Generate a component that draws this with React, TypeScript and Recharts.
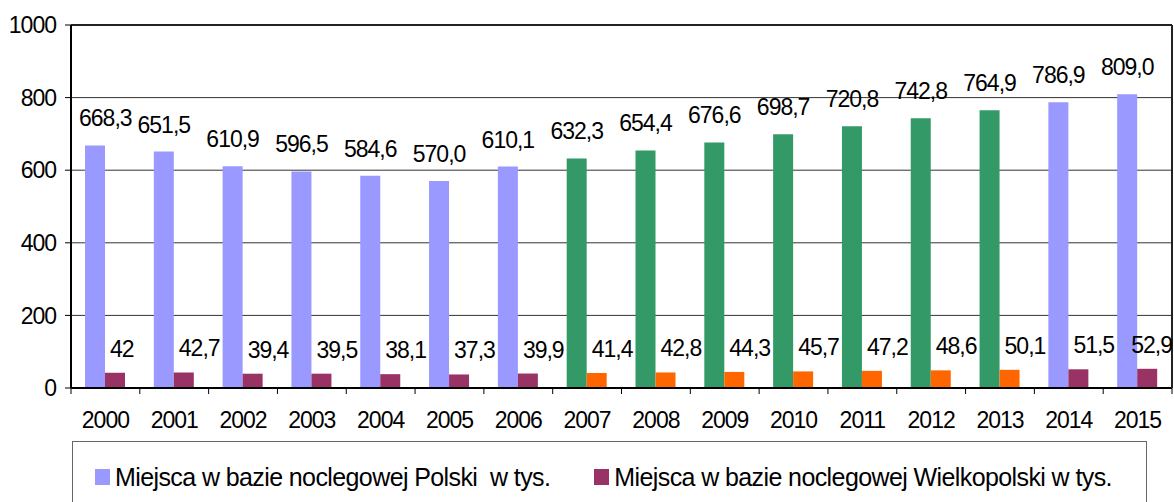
import React from 'react';
import { BarChart, Bar, XAxis, YAxis, CartesianGrid, ReferenceLine, LabelList, Cell } from 'recharts';

// Miejsca noclegowe (tys.) - Polska i Wielkopolska
const years = ['2000', '2001', '2002', '2003', '2004', '2005', '2006', '2007', '2008', '2009', '2010', '2011', '2012', '2013', '2014', '2015'];
const polska = [668.3, 651.5, 610.9, 596.5, 584.6, 570.0, 610.1, 632.3, 654.4, 676.6, 698.7, 720.8, 742.8, 764.9, 786.9, 809.0];
const wielkopolska = [42, 42.7, 39.4, 39.5, 38.1, 37.3, 39.9, 41.4, 42.8, 44.3, 45.7, 47.2, 48.6, 50.1, 51.5, 52.9];
// lata wyróżnione innym kolorem
const highlighted = ['2007', '2008', '2009', '2010', '2011', '2012', '2013'];
const yTicks = [0, 200, 400, 600, 800, 1000];
const seriesNames = ['Miejsca w bazie noclegowej Polski  w tys.', 'Miejsca w bazie noclegowej Wielkopolski w tys.'];

const COLORS = {
  polska: '#9999FF',
  wielkopolska: '#993366',
  polskaHi: '#339966',
  wielkopolskaHi: '#FF6600',
};

const FONT = '"Liberation Sans", Arial, sans-serif';
const FS = 23;
const LS = -1;
const W = 1174;
const H = 502;
const PLOT_LEFT = 71;
const PLOT_RIGHT = 1172;

const data = years.map((year, i) => ({ year, polska: polska[i], wielkopolska: wielkopolska[i] }));

const fmt = (v: number, keepInt = false) =>
  keepInt && Number.isInteger(v) ? String(v) : v.toFixed(1).replace('.', ',');

// rough width of a label at 23px Arial with tight spacing
const textWidth = (s: string) => s.split('').reduce((w, c) => w + (c === ',' ? 5.4 : 11.8), 0);

const PolskaLabel = (props: any) => {
  const { x, y, width, value } = props;
  const s = fmt(Number(value));
  const w = textWidth(s);
  let cx = Number(x) + Number(width) / 2;
  cx = Math.max(cx, PLOT_LEFT + 8 + w / 2);
  return (
    <text x={cx} y={Number(y) - 19} textAnchor="middle" fontSize={FS} letterSpacing={LS} fontFamily={FONT} fill="#000">
      {s}
    </text>
  );
};

const WielkoLabel = (props: any) => {
  const { x, y, value } = props;
  const s = fmt(Number(value), true);
  const w = textWidth(s);
  let left = Number(x) + 5;
  if (left + w > PLOT_RIGHT) left = PLOT_RIGHT - w;
  return (
    <text x={left} y={Number(y) - 16} textAnchor="start" fontSize={FS} letterSpacing={LS} fontFamily={FONT} fill="#000">
      {s}
    </text>
  );
};

const YearTick = (props: any) => {
  const { x, y, payload, index } = props;
  const half = payload && payload.offset ? payload.offset : (PLOT_RIGHT - PLOT_LEFT) / years.length / 2;
  const axisY = y - 24;
  return (
    <g>
      <line x1={x - half} x2={x - half} y1={axisY} y2={axisY + 6} stroke="#000" strokeWidth={1} />
      {index === years.length - 1 && (
        <line x1={x + half} x2={x + half} y1={axisY} y2={axisY + 6} stroke="#000" strokeWidth={1} />
      )}
      <text x={x} y={y} dy="0.71em" textAnchor="middle" fontSize={FS} letterSpacing={LS} fontFamily={FONT} fill="#000">
        {payload.value}
      </text>
    </g>
  );
};

export default function App() {
  return (
    <div style={{ position: 'absolute', left: 0, top: 0, width: W, height: H, background: '#fff', fontFamily: FONT }}>
      <BarChart
        width={W}
        height={H}
        data={data}
        margin={{ top: 25, right: 0, left: 0, bottom: 74 }}
        barGap={0}
        barSize={20}
      >
        <CartesianGrid horizontal vertical={false} stroke="#333" strokeWidth={1} />
        <XAxis
          dataKey="year"
          height={40}
          tickLine={false}
          tickSize={6}
          tickMargin={18}
          axisLine={{ stroke: '#000', strokeWidth: 2 }}
          tick={<YearTick />}
          interval={0}
        />
        <YAxis
          domain={[0, 1000]}
          ticks={yTicks}
          width={PLOT_LEFT}
          tickSize={6}
          tickMargin={9}
          axisLine={{ stroke: '#000', strokeWidth: 2 }}
          tickLine={{ stroke: '#000', strokeWidth: 1 }}
          tick={{ fontSize: FS, fill: '#000', fontFamily: FONT, letterSpacing: LS }}
          interval={0}
        />
        <YAxis
          yAxisId="right"
          orientation="right"
          domain={[0, 1000]}
          width={2}
          tick={false}
          tickLine={false}
          axisLine={{ stroke: '#222', strokeWidth: 2 }}
        />
        <ReferenceLine y={1000} stroke="#222" strokeWidth={2} />
        <Bar dataKey="polska" isAnimationActive={false}>
          {data.map((d) => (
            <Cell key={d.year} fill={highlighted.includes(d.year) ? COLORS.polskaHi : COLORS.polska} />
          ))}
          <LabelList dataKey="polska" content={<PolskaLabel />} />
        </Bar>
        <Bar dataKey="wielkopolska" isAnimationActive={false}>
          {data.map((d) => (
            <Cell key={d.year} fill={highlighted.includes(d.year) ? COLORS.wielkopolskaHi : COLORS.wielkopolska} />
          ))}
          <LabelList dataKey="wielkopolska" content={<WielkoLabel />} />
        </Bar>
      </BarChart>
      <div
        style={{
          position: 'absolute',
          left: 72,
          top: 441,
          width: 1075,
          height: 80,
          border: '1px solid #666',
          boxSizing: 'border-box',
          display: 'flex',
          alignItems: 'flex-start',
          paddingTop: 24,
          paddingLeft: 22,
          fontSize: 25,
          letterSpacing: -0.6,
          color: '#000',
        }}
      >
        {seriesNames.map((name, i) => (
          <div key={name} style={{ display: 'flex', alignItems: 'center', marginRight: 44 }}>
            <span
              style={{
                display: 'inline-block',
                width: 15,
                height: 16,
                background: i === 0 ? COLORS.polska : COLORS.wielkopolska,
                marginRight: 5,
              }}
            />
            <span style={{ whiteSpace: 'pre', lineHeight: '22px' }}>{name}</span>
          </div>
        ))}
      </div>
    </div>
  );
}
